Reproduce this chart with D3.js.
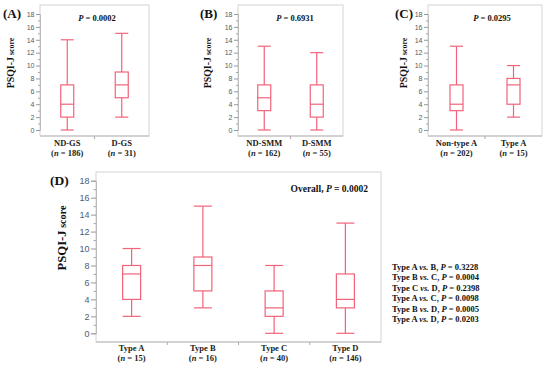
<!DOCTYPE html>
<html>
<head>
<meta charset="utf-8">
<script src="https://cdn.jsdelivr.net/npm/d3@7"></script>
<style>
  body { margin: 0; background: #fff; }
  svg { display: block; }
</style>
</head>
<body>
<svg id="chart" width="550" height="369"></svg>
<script>
// five-number summaries: [min, q1, median, q3, max]
const groupsA = ["ND-GS", "D-GS"];
const nA = [186, 31];
const statsA = [[0, 2, 4, 7, 14], [2, 5, 7, 9, 15]];

const groupsB = ["ND-SMM", "D-SMM"];
const nB = [162, 55];
const statsB = [[0, 3, 5, 7, 13], [0, 2, 4, 7, 12]];

const groupsC = ["Non-type A", "Type A"];
const nC = [202, 15];
const statsC = [[0, 3, 4, 7, 13], [2, 4, 7, 8, 10]];

const groupsD = ["Type A", "Type B", "Type C", "Type D"];
const nD = [15, 16, 40, 146];
const statsD = [[2, 4, 7, 8, 10], [3, 5, 8, 9, 15], [0, 2, 3, 5, 8], [0, 3, 4, 7, 13]];

const pA = "0.0002", pB = "0.6931", pC = "0.0295", pD = "0.0002";
const pairTests = [
  ["Type A", "B", "0.3228"],
  ["Type B", "C", "0.0004"],
  ["Type C", "D", "0.2398"],
  ["Type A", "C", "0.0098"],
  ["Type B", "D", "0.0005"],
  ["Type A", "D", "0.0203"]
];
const yTicks = d3.range(0, 19, 2);
const yMinor = d3.range(1, 19, 2);

const boxColor = "#f2637a";
const serif = "'Liberation Serif', 'Times New Roman', serif";
const sans = "'Liberation Sans', Arial, sans-serif";

const svg = d3.select("#chart");

function drawPanel(o) {
  const g = svg.append("g");
  const x = d3.scaleBand().domain(o.groups).range([o.left, o.right]);
  const y = d3.scaleLinear().domain([0, 18]).range([o.y0, o.y18]);
  const cx = d => x(d) + x.bandwidth() / 2;

  // frame
  g.append("rect")
    .attr("x", o.left).attr("y", o.top)
    .attr("width", o.right - o.left).attr("height", o.bottom - o.top)
    .attr("fill", "none").attr("stroke", "#d4d4d4").attr("stroke-width", 1);

  // y axis (major + minor ticks)
  const ax = g.append("g")
    .attr("transform", `translate(${o.left},0)`)
    .call(d3.axisLeft(y).tickValues(yTicks).tickSize(o.tick).tickPadding(1.5));
  ax.select(".domain").attr("stroke", "#bbb");
  ax.selectAll(".tick line").attr("stroke", "#999");
  ax.selectAll(".tick text")
    .attr("fill", "#4e5d6c")
    .style("font-family", sans)
    .style("font-size", o.tickFont + "px");

  const mx = g.append("g")
    .attr("transform", `translate(${o.left},0)`)
    .call(d3.axisLeft(y).tickValues(yMinor).tickSize(o.tick / 2).tickFormat(""));
  mx.select(".domain").remove();
  mx.selectAll(".tick line").attr("stroke", "#aaa");

  // bottom axis line with dividers between groups
  g.append("line")
    .attr("x1", o.left).attr("x2", o.right)
    .attr("y1", o.bottom).attr("y2", o.bottom)
    .attr("stroke", "#bbb");
  g.selectAll(".divider")
    .data(o.groups.slice(0, -1))
    .join("line")
    .attr("x1", d => x(d) + x.bandwidth()).attr("x2", d => x(d) + x.bandwidth())
    .attr("y1", o.bottom).attr("y2", o.bottom + 3)
    .attr("stroke", "#aaa");

  // boxes
  const bw = o.boxW;
  const box = g.selectAll(".box")
    .data(o.stats)
    .join("g")
    .attr("transform", (d, i) => `translate(${cx(o.groups[i])},0)`)
    .attr("stroke", boxColor).attr("stroke-width", 1.2).attr("fill", "none");

  box.append("line").attr("x1", 0).attr("x2", 0)
    .attr("y1", d => y(d[0])).attr("y2", d => y(d[1]));
  box.append("line").attr("x1", 0).attr("x2", 0)
    .attr("y1", d => y(d[3])).attr("y2", d => y(d[4]));
  box.append("line").attr("x1", -bw / 2).attr("x2", bw / 2)
    .attr("y1", d => y(d[0])).attr("y2", d => y(d[0]));
  box.append("line").attr("x1", -bw / 2).attr("x2", bw / 2)
    .attr("y1", d => y(d[4])).attr("y2", d => y(d[4]));
  box.append("rect")
    .attr("x", -bw / 2).attr("width", bw)
    .attr("y", d => y(d[3])).attr("height", d => y(d[1]) - y(d[3]));
  box.append("line").attr("x1", -bw / 2).attr("x2", bw / 2)
    .attr("y1", d => y(d[2])).attr("y2", d => y(d[2]));

  // group labels
  o.groups.forEach((name, i) => {
    const t = g.append("text")
      .attr("text-anchor", "middle")
      .style("font-family", serif).style("font-weight", "bold")
      .style("font-size", o.labFont + "px").attr("fill", "#222");
    t.append("tspan").attr("x", cx(name)).attr("y", o.labY).text(name);
    const s = t.append("tspan").attr("x", cx(name)).attr("y", o.labY + o.labGap);
    s.append("tspan").text("(");
    s.append("tspan").style("font-style", "italic").text("n");
    s.append("tspan").text(" = " + o.n[i] + ")");
  });

  // panel letter
  g.append("text").attr("x", o.letterX).attr("y", o.letterY)
    .style("font-family", serif).style("font-weight", "bold")
    .style("font-size", o.letterFont + "px").attr("fill", "#111")
    .text(o.letter);

  // y title, "score" set a little smaller like the original
  const yt = g.append("text")
    .attr("transform", `translate(${o.titleX},${o.titleY}) rotate(-90)`)
    .attr("text-anchor", "middle")
    .style("font-family", serif).style("font-weight", "bold")
    .attr("fill", "#111");
  yt.append("tspan").style("font-size", o.titleFont * 1.1 + "px").text("PSQI-J");
  yt.append("tspan").style("font-size", o.titleFont * 0.88 + "px").text(" score");

  // p value
  const pt = g.append("text").attr("x", o.pX).attr("y", o.pY)
    .attr("text-anchor", o.pAnchor)
    .style("font-family", serif).style("font-weight", "bold")
    .style("font-size", o.pFont + "px").attr("fill", "#111");
  if (o.prefix) pt.append("tspan").text(o.prefix);
  pt.append("tspan").style("font-style", "italic").text("P");
  pt.append("tspan").text(" = " + o.p);

  return g;
}

const topCfg = { top: 5, bottom: 136, y0: 130, y18: 14, tick: 4, tickFont: 7, boxW: 13,
  labFont: 8.5, labY: 146, labGap: 10, letterFont: 13, letterY: 18, titleFont: 9,
  titleY: 63, pY: 21, pFont: 8.5, pAnchor: "middle" };

drawPanel(Object.assign({}, topCfg, { groups: groupsA, n: nA, stats: statsA,
  left: 40, right: 149, letter: "(A)", letterX: 3, titleX: 14, pX: 97, p: pA }));
drawPanel(Object.assign({}, topCfg, { groups: groupsB, n: nB, stats: statsB,
  left: 238, right: 343, letter: "(B)", letterX: 200, titleX: 211, pX: 295, p: pB }));
drawPanel(Object.assign({}, topCfg, { groups: groupsC, n: nC, stats: statsC,
  left: 428, right: 542, letter: "(C)", letterX: 395, titleX: 407, pX: 492, p: pC }));

drawPanel({ groups: groupsD, n: nD, stats: statsD,
  left: 96, right: 381, top: 172, bottom: 342, y0: 333.3, y18: 180.7, tick: 5, tickFont: 9,
  boxW: 18, labFont: 8.5, labY: 351, labGap: 10, letter: "(D)", letterX: 50, letterY: 185,
  letterFont: 13.5, titleX: 66, titleY: 238, titleFont: 11.5, pX: 368, pY: 192, pFont: 9.5,
  pAnchor: "end", prefix: "Overall, ", p: pD });

// pairwise comparisons
const pairs = svg.append("g")
  .style("font-family", serif).style("font-weight", "bold")
  .style("font-size", "8.5px").attr("fill", "#111");
pairTests.forEach((d, i) => {
  const t = pairs.append("text").attr("x", 392).attr("y", 270 + i * 10.4);
  t.append("tspan").text(d[0] + " ");
  t.append("tspan").style("font-style", "italic").text("vs.");
  t.append("tspan").text(" " + d[1] + ", ");
  t.append("tspan").style("font-style", "italic").text("P");
  t.append("tspan").text(" = " + d[2]);
});
</script>
</body>
</html>
